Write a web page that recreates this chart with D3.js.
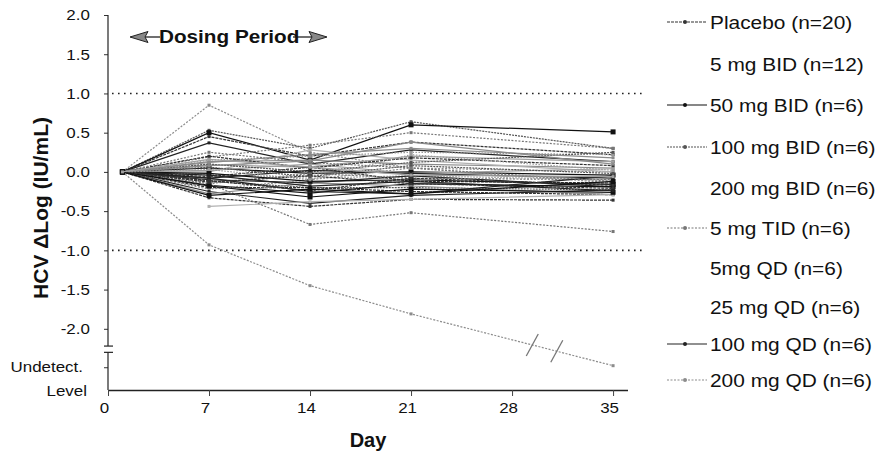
<!DOCTYPE html>
<html>
<head>
<meta charset="utf-8">
<script src="https://cdn.jsdelivr.net/npm/d3@7"></script>
<style>
  body { margin: 0; background: #fff; }
  text { font-family: "Liberation Sans", Arial, sans-serif; fill: #111; }
</style>
</head>
<body>
<div id="chart"></div>
<script>
// sampling days of each subject curve
var days = [1, 7, 14, 21, 35];
var xTicks = [0, 7, 14, 21, 28, 35];
var yTicks = [2.0, 1.5, 1.0, 0.5, 0.0, -0.5, -1.0, -1.5, -2.0];
var refLines = [1.0, -1.0];

var groups = [
  "Placebo (n=20)", "5 mg BID (n=12)", "50 mg BID (n=6)", "100 mg BID (n=6)",
  "200 mg BID (n=6)", "5 mg TID (n=6)", "5mg QD (n=6)", "25 mg QD (n=6)",
  "100 mg QD (n=6)", "200 mg QD (n=6)"
];
var legendHasLine = [true, false, true, true, false, true, false, false, true, true];

// change from baseline, one array per curve (values at days[])
var curves = [
  [0, 0.85, 0.25, 0.05, 0.00],
  [0, 0.53, 0.30, 0.64, 0.30],
  [0, 0.50, 0.15, 0.60, 0.51],
  [0, 0.45, 0.20, 0.38, 0.22],
  [0, 0.37, 0.10, 0.28, 0.13],
  [0, 0.19, 0.34, 0.50, 0.30],
  [0, 0.13, 0.15, 0.10, 0.05],
  [0, 0.09, 0.06, 0.20, 0.13],
  [0, 0.05, -0.02, 0.00, -0.04],
  [0, 0.00, 0.28, 0.15, 0.00],
  [0, -0.03, -0.08, -0.05, -0.10],
  [0, -0.06, 0.06, -0.12, -0.14],
  [0, -0.10, -0.14, -0.05, -0.19],
  [0, -0.12, -0.20, -0.20, -0.23],
  [0, -0.15, -0.02, -0.08, -0.10],
  [0, -0.17, -0.27, -0.15, -0.19],
  [0, -0.20, -0.20, -0.25, -0.29],
  [0, -0.22, -0.10, 0.05, -0.14],
  [0, -0.25, -0.40, -0.30, -0.23],
  [0, -0.28, -0.14, -0.18, -0.29],
  [0, -0.33, -0.44, -0.35, -0.36],
  [0, 0.15, 0.20, 0.25, 0.22],
  [0, 0.02, 0.10, -0.02, 0.04],
  [null, -0.44, -0.38, -0.35, -0.29],
  [0, -0.15, -0.67, -0.52, -0.76],
  [0, -0.93, -1.45, -1.81, -2.47],
  [0, 0.10, 0.00, 0.12, 0.25],
  [0, -0.08, -0.25, -0.28, -0.05],
  [0, 0.20, 0.05, 0.18, 0.08],
  [0, 0.12, 0.22, 0.30, 0.18],
  [0, -0.02, -0.12, -0.10, -0.16],
  [0, -0.08, 0.02, -0.02, -0.08],
  [0, -0.13, -0.05, -0.15, -0.21],
  [0, 0.06, -0.06, 0.08, -0.02],
  [0, -0.18, -0.32, -0.22, -0.26],
  [0, 0.25, 0.12, 0.05, -0.12],
  [0, -0.04, -0.18, -0.12, -0.24],
  [0, 0.08, 0.14, 0.38, 0.10],
  [0, -0.11, -0.24, -0.08, -0.17],
  [0, 0.03, -0.10, 0.22, 0.02],
  [0, -0.30, -0.22, -0.28, -0.12],
  [0, 0.16, 0.06, -0.04, -0.06]
];
var curveGroup = [9, 3, 2, 0, 8, 5, 1, 4, 2, 6, 7, 0, 8, 3, 5, 2, 0, 9, 8, 1, 0, 7, 4, 6, 5, 9, 3, 8,
  0, 1, 2, 8, 0, 3, 2, 5, 8, 1, 0, 7, 2, 4];

// styling per group
var groupColor = ["#333", "#8a8a8a", "#111", "#555", "#a0a0a0", "#777", "#b0b0b0", "#999", "#222", "#8c8c8c"];
var groupDash = ["3,1", null, null, "2,1", null, "2,1.5", null, "1.5,1.5", null, "2,1.5"];
var legendY = [22, 64, 105, 147, 188, 228, 268, 307, 344, 380];

var width = 882;
var height = 454;
var stretch = 1.13;

var svg = d3.select("#chart")
  .append("svg")
  .attr("width", width)
  .attr("height", height);

var xScale = d3.scaleLinear().domain([0, 36]).range([108, 627.5]);
var yScale = d3.scaleLinear().domain([-2.78, 2.0]).range([390, 15]);

// dotted reference lines
svg.selectAll("line.ref")
  .data(refLines)
  .enter()
  .append("line")
  .attr("class", "ref")
  .attr("x1", 112)
  .attr("x2", 646)
  .attr("y1", function(d) { return yScale(d); })
  .attr("y2", function(d) { return yScale(d); })
  .attr("stroke", "#222")
  .attr("stroke-width", 1.6)
  .attr("stroke-dasharray", "1.6,4.4");

// x axis
var xAxis = svg.append("g")
  .attr("transform", "translate(0," + yScale(-2.78) + ")")
  .call(d3.axisBottom(xScale).tickValues(xTicks).tickSize(6).tickSizeOuter(0));
xAxis.select(".domain").attr("stroke", "#222").attr("stroke-width", 1.3);
xAxis.selectAll(".tick line").attr("stroke", "#444");
xAxis.selectAll(".tick text")
  .attr("font-size", 15)
  .attr("fill", "#111")
  .attr("y", 12)
  .attr("transform", "translate(-4,0) scale(" + stretch + ",1)");

// y axis with a break
var yAxis = svg.append("g")
  .attr("transform", "translate(" + xScale(0) + ",0)")
  .call(d3.axisLeft(yScale).tickValues(yTicks.concat([-2.49])).tickSize(4).tickSizeOuter(0)
    .tickFormat(function(d) { return d < -2.2 ? "" : d.toFixed(1); }));
yAxis.select(".domain").remove();
yAxis.selectAll(".tick line").attr("stroke", "#333");
yAxis.selectAll(".tick text")
  .attr("font-size", 15)
  .attr("fill", "#222")
  .attr("x", -16)
  .attr("transform", "scale(" + stretch + ",1)");

var breakTop = -2.22;
var breakBottom = -2.30;
svg.append("line")
  .attr("x1", xScale(0)).attr("x2", xScale(0))
  .attr("y1", yScale(2.0)).attr("y2", yScale(breakTop))
  .attr("stroke", "#222").attr("stroke-width", 1.2);
svg.append("line")
  .attr("x1", xScale(0)).attr("x2", xScale(0))
  .attr("y1", yScale(breakBottom)).attr("y2", yScale(-2.78))
  .attr("stroke", "#222").attr("stroke-width", 1.2);
svg.selectAll("line.brk")
  .data([breakTop, breakBottom])
  .enter()
  .append("line")
  .attr("class", "brk")
  .attr("x1", xScale(0) - 4).attr("x2", xScale(0) + 5)
  .attr("y1", function(d) { return yScale(d); })
  .attr("y2", function(d) { return yScale(d); })
  .attr("stroke", "#222").attr("stroke-width", 1.2);

svg.append("text")
  .attr("transform", "translate(83," + (yScale(-2.49) + 5) + ") scale(" + stretch + ",1)")
  .attr("text-anchor", "end")
  .attr("font-size", 15)
  .text("Undetect.");
svg.append("text")
  .attr("transform", "translate(87," + (yScale(-2.78) + 6) + ") scale(" + stretch + ",1)")
  .attr("text-anchor", "end")
  .attr("font-size", 15)
  .text("Level");

// axis titles
svg.append("text")
  .attr("transform", "translate(48,208) rotate(-90)")
  .attr("text-anchor", "middle")
  .attr("font-size", 21)
  .attr("font-weight", "bold")
  .text("HCV \u0394Log (IU/mL)");
svg.append("text")
  .attr("x", 368)
  .attr("y", 447)
  .attr("text-anchor", "middle")
  .attr("font-size", 20)
  .attr("font-weight", "bold")
  .text("Day");

// subject curves
var line = d3.line()
  .defined(function(d) { return d != null; })
  .x(function(d, i) { return xScale(days[i]); })
  .y(function(d) { return yScale(d); });

var curveG = svg.selectAll("g.curve")
  .data(curves)
  .enter()
  .append("g")
  .attr("class", "curve");

curveG.append("path")
  .attr("d", function(d) { return line(d); })
  .attr("fill", "none")
  .attr("stroke", function(d, i) { return groupColor[curveGroup[i]]; })
  .attr("stroke-width", 1.2)
  .attr("stroke-dasharray", function(d, i) { return groupDash[curveGroup[i]]; });

curveG.each(function(vals, ci) {
  var g = curveGroup[ci];
  var s = g === 2 ? 5 : 3;
  d3.select(this).selectAll("rect")
    .data(vals.map(function(v, i) { return { v: v, day: days[i] }; })
      .filter(function(p) { return p.v != null; }))
    .enter()
    .append("rect")
    .attr("x", function(p) { return xScale(p.day) - s / 2; })
    .attr("y", function(p) { return yScale(p.v) - s / 2; })
    .attr("width", s)
    .attr("height", s)
    .attr("fill", groupColor[g]);
});

// break marks on the descending curve (time axis gap)
var lastCurve = curves[25];
var gapDays = [29.4, 31.1];
function onLast(d) {
  return lastCurve[3] + (lastCurve[4] - lastCurve[3]) * (d - 21) / 14;
}
svg.selectAll("line.gap")
  .data(gapDays)
  .enter()
  .append("line")
  .attr("class", "gap")
  .attr("x1", function(d) { return xScale(d) - 6; })
  .attr("x2", function(d) { return xScale(d) + 6; })
  .attr("y1", function(d) { return yScale(onLast(d)) + 11; })
  .attr("y2", function(d) { return yScale(onLast(d)) - 11; })
  .attr("stroke", "#777")
  .attr("stroke-width", 1.3);

// dosing period annotation
var arrowY = 37;
var ann = svg.append("g");
ann.append("line").attr("x1", 140).attr("x2", 160).attr("y1", arrowY).attr("y2", arrowY)
  .attr("stroke", "#333").attr("stroke-width", 1.4);
ann.append("path")
  .attr("d", "M130," + arrowY + " L148," + (arrowY - 5.5) + " L145," + arrowY + " L148," + (arrowY + 5.5) + " Z")
  .attr("fill", "#888").attr("stroke", "#222").attr("stroke-width", 1);
ann.append("line").attr("x1", 293).attr("x2", 314).attr("y1", arrowY).attr("y2", arrowY)
  .attr("stroke", "#333").attr("stroke-width", 1.4);
ann.append("path")
  .attr("d", "M327," + arrowY + " L309," + (arrowY - 5.5) + " L312," + arrowY + " L309," + (arrowY + 5.5) + " Z")
  .attr("fill", "#888").attr("stroke", "#222").attr("stroke-width", 1);
ann.append("text")
  .attr("transform", "translate(159," + (arrowY + 6) + ") scale(1.12,1)")
  .attr("font-size", 18.5)
  .attr("font-weight", "bold")
  .attr("fill", "#222")
  .text("Dosing Period");

// legend
var legend = svg.selectAll("g.legend")
  .data(groups)
  .enter()
  .append("g")
  .attr("class", "legend")
  .attr("transform", function(d, i) { return "translate(667," + legendY[i] + ")"; });

legend.filter(function(d, i) { return legendHasLine[i]; })
  .append("line")
  .attr("x1", 0).attr("x2", 40).attr("y1", 0).attr("y2", 0)
  .attr("stroke", function(d) { return groupColor[groups.indexOf(d)]; })
  .attr("stroke-width", 1.1)
  .attr("stroke-dasharray", function(d) { return groupDash[groups.indexOf(d)]; });
legend.filter(function(d, i) { return legendHasLine[i]; })
  .append("circle")
  .attr("cx", 18).attr("cy", 0).attr("r", 2)
  .attr("fill", function(d) { return groupColor[groups.indexOf(d)]; });

legend.append("text")
  .attr("transform", "translate(43,6.5) scale(" + stretch + ",1)")
  .attr("font-size", 18.5)
  .attr("fill", "#111")
  .text(function(d) { return d; });
</script>
</body>
</html>
